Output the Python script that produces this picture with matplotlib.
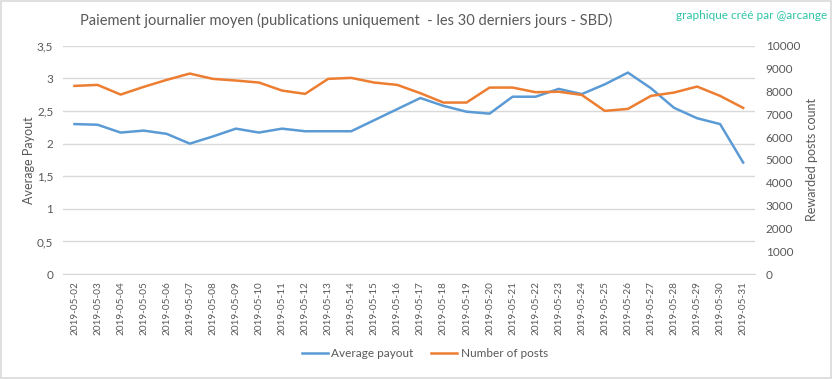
import matplotlib.pyplot as plt
from matplotlib.ticker import FixedLocator

plt.rcParams['font.family'] = ['Lato', 'DejaVu Sans']

dates = ['2019-05-%02d' % d for d in range(2, 32)]
avg_payout = [2.30, 2.29, 2.17, 2.20, 2.15, 2.00, 2.11, 2.23, 2.17, 2.23,
              2.19, 2.19, 2.19, 2.36, 2.53, 2.70, 2.58, 2.49, 2.46, 2.72,
              2.72, 2.84, 2.76, 2.91, 3.09, 2.85, 2.55, 2.39, 2.30, 1.71]
num_posts = [8245, 8289, 7865, 8202, 8509, 8786, 8553, 8480, 8392, 8041,
             7895, 8553, 8597, 8392, 8289, 7925, 7515, 7515, 8172, 8172,
             7968, 7990, 7850, 7150, 7237, 7807, 7953, 8216, 7807, 7280]
left_ticks = [0, 0.5, 1, 1.5, 2, 2.5, 3, 3.5]
left_labels = ['0', '0,5', '1', '1,5', '2', '2,5', '3', '3,5']
right_ticks = list(range(0, 10001, 1000))

blue = '#5B9BD5'
orange = '#ED7D31'
txt = '#595959'
grid = '#D9D9D9'

fig = plt.figure(figsize=(8.33, 3.79), dpi=100)
fig.patches.append(plt.Rectangle((0.001, 0.002), 0.997, 0.995, transform=fig.transFigure,
                                 fill=False, edgecolor='#D9D9D9', linewidth=1.2))
ax = fig.add_axes([0.0756, 0.277, 0.8304, 0.602])
ax2 = ax.twinx()

x = range(len(dates))
l1, = ax.plot(x, avg_payout, color=blue, linewidth=1.8, label='Average payout')
l2, = ax2.plot(x, num_posts, color=orange, linewidth=1.8, label='Number of posts')

ax.set_xlim(-0.5, len(dates) - 0.5)
ax.set_ylim(0, 3.5)
ax2.set_ylim(0, 10000)
ax.yaxis.set_major_locator(FixedLocator(left_ticks))
ax.set_yticklabels(left_labels)
ax2.set_yticks(right_ticks)
ax.set_xticks(list(x))
ax.set_xticklabels(dates, rotation=90)

ax.grid(axis='y', color=grid, linewidth=1)
ax.set_axisbelow(True)
for a in (ax, ax2):
    for s in a.spines.values():
        s.set_visible(False)
    a.tick_params(length=0, colors=txt, labelsize=8.5)
ax.spines['bottom'].set_visible(True)
ax.spines['bottom'].set_color(grid)
ax.tick_params(axis='y', pad=7)
ax2.tick_params(axis='y', pad=8)
ax.tick_params(axis='x', pad=5, labelsize=7.2)

ax.set_ylabel('Average Payout', color=txt, fontsize=9, labelpad=1)
ax2.set_ylabel('Rewarded posts count', color=txt, fontsize=9, labelpad=4)

fig.text(0.415, 0.945, 'Paiement journalier moyen (publications uniquement  - les 30 derniers jours - SBD)',
         ha='center', va='center', color=txt, fontsize=10.5)
fig.text(0.993, 0.96, 'graphique créé par @arcange', ha='right', va='center',
         color='#2EC4A6', fontsize=8.5)

fig.legend(handles=[l1, l2], loc='center', bbox_to_anchor=(0.51, 0.066), ncol=2,
           frameon=False, fontsize=8.5, labelcolor=txt, handlelength=2.2,
           columnspacing=1.5, handletextpad=0.3)

fig.savefig('out.png', dpi=100)
